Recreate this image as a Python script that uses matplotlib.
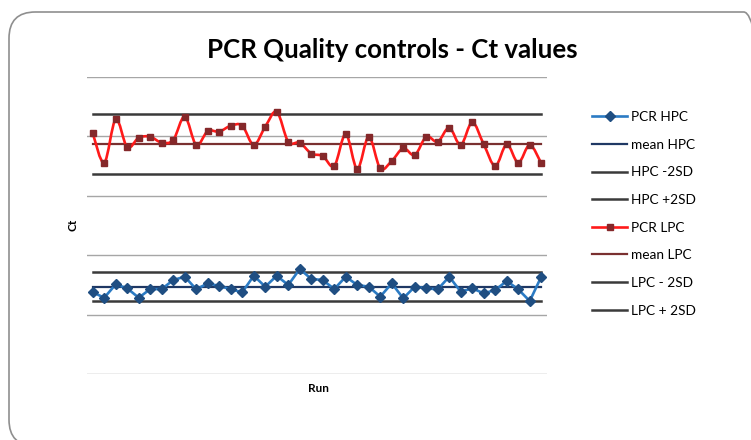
import numpy as np
import matplotlib
matplotlib.use("Agg")
import matplotlib.pyplot as plt
from matplotlib.path import Path
from matplotlib.patches import PathPatch, FancyBboxPatch
from matplotlib.lines import Line2D

plt.rcParams['font.family'] = ['Lato', 'DejaVu Sans']

# ---- data ----
runs = np.arange(1, 41)

pcr_lpc = [35.26, 32.79, 36.44, 34.08, 34.89, 34.97, 34.47, 34.70, 36.66, 34.28,
           35.45, 35.40, 35.90, 35.90, 34.28, 35.82, 37.08, 34.55, 34.47, 33.56,
           33.35, 32.51, 35.20, 32.26, 34.97, 32.31, 32.93, 34.00, 33.43, 34.97,
           34.55, 35.73, 34.28, 36.19, 34.33, 32.51, 34.33, 32.79, 34.28, 32.74]

pcr_hpc = [21.88, 21.42, 22.55, 22.21, 21.42, 22.15, 22.15, 22.91, 23.19, 22.13,
           22.63, 22.41, 22.13, 21.88, 23.27, 22.35, 23.27, 22.49, 23.84, 23.00,
           22.91, 22.15, 23.19, 22.49, 22.35, 21.51, 22.63, 21.37, 22.35, 22.21,
           22.13, 23.19, 21.93, 22.21, 21.79, 22.07, 22.83, 22.13, 21.14, 23.19]

mean_hpc = 22.35
hpc_minus_2sd = 21.17
hpc_plus_2sd = 23.61
mean_lpc = 34.33
lpc_minus_2sd = 31.81
lpc_plus_2sd = 36.86

y_min, y_max, y_step = 15, 40, 5

# ---- colours ----
blue = "#2b7bc4"
blue_dark = "#1f4e82"
navy = "#1f3864"
red = "#ff1a1a"
red_dark = "#85282a"
mean_red = "#7a3030"
sd_col = "#3a3a3a"
grid_col = "#a6a6a6"


def smooth_path(x, y):
    # Excel-style smoothed line: Catmull-Rom turned into cubic Bezier segments
    x = np.asarray(x, float)
    y = np.asarray(y, float)
    verts = [(x[0], y[0])]
    codes = [Path.MOVETO]
    n = len(x)
    for i in range(n - 1):
        x0, y0 = (x[i - 1], y[i - 1]) if i > 0 else (x[i], y[i])
        x3, y3 = (x[i + 2], y[i + 2]) if i + 2 < n else (x[i + 1], y[i + 1])
        c1 = (x[i] + (x[i + 1] - x0) / 6, y[i] + (y[i + 1] - y0) / 6)
        c2 = (x[i + 1] - (x3 - x[i]) / 6, y[i + 1] - (y3 - y[i]) / 6)
        verts += [c1, c2, (x[i + 1], y[i + 1])]
        codes += [Path.CURVE4] * 3
    return Path(verts, codes)


W, H = 751, 440
fig = plt.figure(figsize=(W / 100, H / 100), dpi=100)

# rounded chart border (runs off the right and bottom edges)
border = FancyBboxPatch((9 / W, 1 - 446 / H), (770 - 9) / W, (446 - 12) / H,
                        boxstyle="round,pad=0,rounding_size=0.035",
                        transform=fig.transFigure, fill=False,
                        edgecolor="#8f8f8f", linewidth=1.2, mutation_aspect=W / H)
fig.patches.append(border)

ax = fig.add_axes([87 / W, 1 - 374 / H, (547 - 87) / W, (374 - 77) / H])
ax.set_xlim(0.5, 40.5)
ax.set_ylim(y_min, y_max)
for s in ax.spines.values():
    s.set_visible(False)
ax.set_xticks([])
ax.set_yticks([])
for gy in range(y_min, y_max + 1, y_step):
    ax.axhline(gy, color=grid_col, lw=1.0, zorder=1)

# control limits, drawn across the runs
xs = [runs[0], runs[-1]]
ax.plot(xs, [mean_hpc] * 2, color=navy, lw=1.6, zorder=2)
ax.plot(xs, [hpc_minus_2sd] * 2, color=sd_col, lw=1.8, zorder=2)
ax.plot(xs, [hpc_plus_2sd] * 2, color=sd_col, lw=1.8, zorder=2)
ax.plot(xs, [mean_lpc] * 2, color=mean_red, lw=1.6, zorder=2)
ax.plot(xs, [lpc_minus_2sd] * 2, color=sd_col, lw=1.8, zorder=2)
ax.plot(xs, [lpc_plus_2sd] * 2, color=sd_col, lw=1.8, zorder=2)

# HPC series
ax.plot(runs, pcr_hpc, color=blue, lw=1.9, zorder=3)
ax.plot(runs, pcr_hpc, ls="none", marker="D", ms=5.2, mfc=blue_dark,
        mec=blue_dark, zorder=4)

# LPC series (smoothed)
ax.add_patch(PathPatch(smooth_path(runs, pcr_lpc), fill=False, edgecolor=red,
                       lw=1.9, zorder=3))
ax.plot(runs, pcr_lpc, ls="none", marker="s", ms=4.6, mfc=red_dark,
        mec=red_dark, zorder=4)

# texts
fig.text(392 / W, 1 - 58 / H, "PCR Quality controls - Ct values",
         ha="center", va="baseline", fontsize=18.6, fontweight="bold")
fig.text(73 / W, 1 - 225 / H, "Ct", rotation=90, ha="center", va="center",
         fontsize=8.5, fontweight="bold")
fig.text(318 / W, 1 - 388 / H, "Run", ha="center", va="center",
         fontsize=8.5, fontweight="bold")

handles = [
    Line2D([], [], color=blue, lw=1.9, marker="D", ms=5.2, mfc=blue_dark, mec=blue_dark),
    Line2D([], [], color=navy, lw=1.6),
    Line2D([], [], color=sd_col, lw=1.8),
    Line2D([], [], color=sd_col, lw=1.8),
    Line2D([], [], color=red, lw=1.9, marker="s", ms=4.6, mfc=red_dark, mec=red_dark),
    Line2D([], [], color=mean_red, lw=1.6),
    Line2D([], [], color=sd_col, lw=1.8),
    Line2D([], [], color=sd_col, lw=1.8),
]
labels = ["PCR HPC", "mean HPC", "HPC -2SD", "HPC +2SD",
          "PCR LPC", "mean LPC", "LPC - 2SD", "LPC + 2SD"]
fig.legend(handles, labels, loc="upper left",
           bbox_to_anchor=(592 / W, 1 - 111 / H), frameon=False,
           fontsize=9.8, handlelength=2.6, handletextpad=0.3,
           labelspacing=1.15, borderpad=0, borderaxespad=0)

fig.savefig("out.png", dpi=100)
